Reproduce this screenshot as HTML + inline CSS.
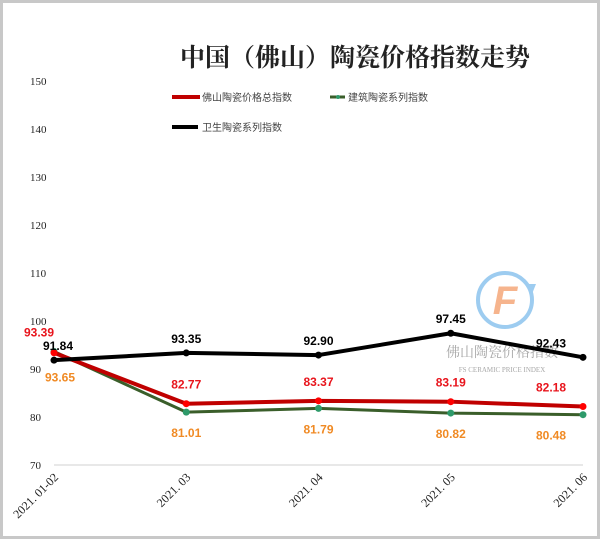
<!DOCTYPE html>
<html><head><meta charset="utf-8"><style>
html,body{margin:0;padding:0;background:#fff}
svg{display:block}
text{font-family:"Liberation Sans","Noto Sans CJK SC",sans-serif}
</style></head><body>
<svg id="c" width="600" height="539" viewBox="0 0 600 539">
<rect x="1.5" y="1.5" width="597" height="536" fill="#fff" stroke="#c8c8c8" stroke-width="3"/>
<text x="355" y="66" text-anchor="middle" font-size="25" font-weight="bold" fill="#222" style="font-family:'Liberation Serif','Noto Serif CJK SC',serif">中国（佛山）陶瓷价格指数走势</text>
<g>
<g><line x1="172" y1="97" x2="200" y2="97" stroke="#c00000" stroke-width="4"/><text x="202" y="101" font-size="10" fill="#444">佛山陶瓷价格总指数</text></g>
<g><line x1="330" y1="97" x2="345" y2="97" stroke="#3a5e2a" stroke-width="3"/><circle cx="338" cy="97" r="2" fill="#2e9a6a"/><text x="348" y="101" font-size="10" fill="#444">建筑陶瓷系列指数</text></g>
<g><line x1="172" y1="127" x2="198" y2="127" stroke="#000" stroke-width="4"/><text x="202" y="131" font-size="10" fill="#444">卫生陶瓷系列指数</text></g>
</g>
<g opacity="0.85">
<circle cx="505" cy="300" r="27" fill="none" stroke="#8cc4ee" stroke-width="4"/>
<path d="M532 294 l-6 -10 l10 0 z" fill="#8cc4ee"/>
<text x="505" y="314" text-anchor="middle" font-size="40" font-weight="bold" font-style="italic" fill="#f5a77a">F</text>
<text x="502" y="357" text-anchor="middle" font-size="14" fill="#999" style="font-family:'Liberation Serif','Noto Serif CJK SC',serif">佛山陶瓷价格指数</text>
<text x="502" y="372" text-anchor="middle" font-size="7" fill="#999" style="font-family:'Liberation Serif',serif">FS CERAMIC PRICE INDEX</text>
</g>
<g id="axes"></g>
<g id="series"></g>
</svg>
<script>
const categories=["2021. 01-02","2021. 03","2021. 04","2021. 05","2021. 06"];
const totalValues=[93.39,82.77,83.37,83.19,82.18];
const buildingValues=[93.65,81.01,81.79,80.82,80.48];
const sanitaryValues=[91.84,93.35,92.90,97.45,92.43];
const yTicks=[70,80,90,100,110,120,130,140,150];
const NS="http://www.w3.org/2000/svg";
function x(i){return 54+i*(583-54)/(categories.length-1);}
function y(v){return 465-(v-70)*4.8;}
function mk(tag,attrs,parent){const e=document.createElementNS(NS,tag);for(const k in attrs)e.setAttribute(k,attrs[k]);parent.appendChild(e);return e;}
const ax=document.getElementById('axes'),sr=document.getElementById('series');
const base=mk('line',{x1:54,y1:y(70),x2:583,y2:y(70),stroke:'#d0d0d0','stroke-width':1},ax);


yTicks.forEach(t=>{const e=mk('text',{x:30,y:y(t)+4,'font-size':11,fill:'#222',style:"font-family:'Liberation Serif',serif"},ax);e.textContent=t;

});
categories.forEach((c,i)=>{const e=mk('text',{x:0,y:0,'font-size':12,fill:'#222','text-anchor':'end',transform:`translate(${x(i)+5},${y(70)+13}) rotate(-45)`,style:"font-family:'Liberation Serif',serif"},ax);e.textContent=c;

});
function series(vals,color,w,mcolor,r,name){
const g=mk('g',{},sr);


mk('polyline',{points:vals.map((v,i)=>x(i)+','+y(v)).join(' '),fill:'none',stroke:color,'stroke-width':w,'stroke-linejoin':'round'},g);
vals.forEach((v,i)=>{const p=mk('circle',{cx:x(i),cy:y(v),r:r,fill:mcolor},g);

});
}
series(buildingValues,'#3a5e2a',3,'#2e9a6a',3.5,'building-series');
series(totalValues,'#c00000',4,'#ff0000',3.5,'total-series');
series(sanitaryValues,'#000',4,'#000',3.5,'sanitary-series');
function labels(vals,color,dy,name,first){
const n=vals.length;
vals.forEach((v,i)=>{let lx=x(i),ly=y(v)+dy;if(i===0){lx+=first[0];ly=y(v)+first[1];}
if(i===n-1){lx-=32;}
const e=mk('text',{x:lx,y:ly,'font-size':12,'font-weight':'bold',fill:color,'text-anchor':'middle'},sr);e.textContent=v.toFixed(2);

});
}
labels(totalValues,'#e8141c',-15,'total-value-label',[-15,-16]);
labels(buildingValues,'#f08a24',+25,'building-value-label',[6,+30]);
labels(sanitaryValues,'#000',-10,'sanitary-value-label',[4,-10]);
</script>
</body></html>
